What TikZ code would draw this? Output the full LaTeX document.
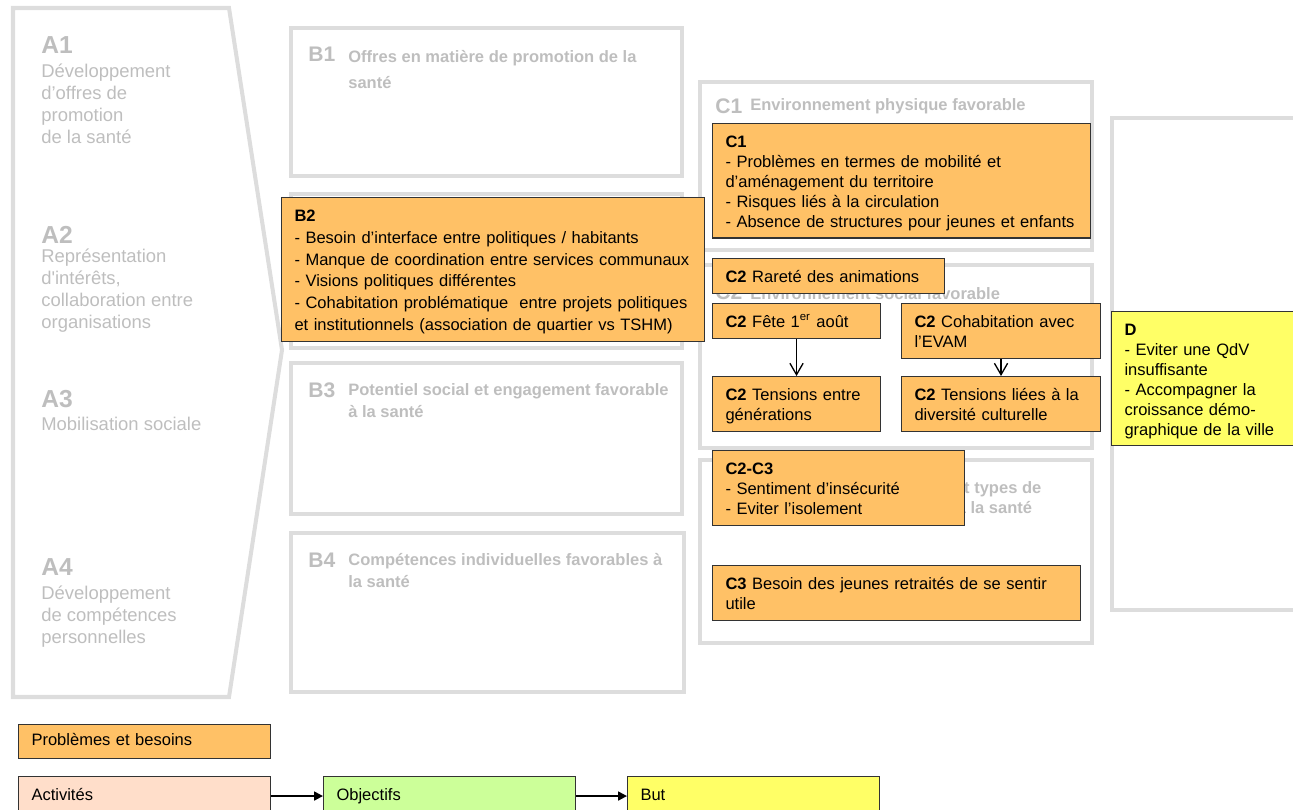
\documentclass[tikz,border=0pt]{standalone}
\usepackage{fontspec}
\setmainfont{Liberation Sans}
\usetikzlibrary{arrows.meta}
\definecolor{probfill}{RGB}{255,193,102}
\definecolor{actfill}{RGB}{255,222,202}
\definecolor{objfill}{RGB}{204,255,153}
\definecolor{butfill}{RGB}{255,255,102}
\definecolor{framegrey}{RGB}{221,221,221}
\definecolor{textgrey}{RGB}{190,190,190}
\begin{document}
\begin{tikzpicture}[x=0.02cm,y=-0.02cm,
  outbox/.style={draw=framegrey,line width=2.3pt,line join=miter},
  alab/.style={anchor=north west,inner sep=0pt,text=textgrey,font=\fontsize{14}{16}\selectfont\bfseries},
  atext/.style={anchor=north west,inner sep=0pt,text=textgrey,align=left,font=\fontsize{10.5}{12.5}\selectfont},
  hlab/.style={anchor=north west,inner sep=0pt,text=textgrey,font=\fontsize{12}{14}\selectfont\bfseries},
  htext/.style={anchor=north west,inner sep=0pt,text=textgrey,align=left,font=\fontsize{9.4}{12.5}\selectfont\bfseries},
  probbox/.style={draw=black!80,fill=probfill,line width=0.6pt,anchor=north west,
    inner xsep=7.4pt,inner ysep=2.8pt,align=left,text width=#1,
    font=\fontsize{9.4}{11.34}\selectfont,
    execute at begin node={\rule{0pt}{10.8pt}},execute at end node={\strut}},
  legbox/.style={draw=black!80,line width=0.6pt,anchor=north west,inner xsep=7.4pt,
    align=left,text width=4.52cm,font=\fontsize{9.4}{11.34}\selectfont,
    execute at begin node={\strut}},
  downarrow/.style={-{Straight Barb[length=6.5pt,width=7.5pt]},line width=0.75pt},
  legarrow/.style={-{Triangle[length=5pt,width=5pt]},line width=1.1pt}]
\useasboundingbox (0,0) rectangle (1293,809);
% A: activities column
\draw[outbox] (13,8) -- (229,8) -- (282,350) -- (229,697) -- (13,697) -- cycle;
\node[alab] (a1lab) at (41,36) {A1};
\node[atext] (a1txt) at (41,64) {Développement\\d’offres de\\promotion\\de la santé};
\node[alab] (a2lab) at (41,226) {A2};
\node[atext] (a2txt) at (41,249) {Représentation\\d\textquotesingle intérêts,\\collaboration entre\\organisations};
\node[alab] (a3lab) at (41,390) {A3};
\node[atext] (a3txt) at (41,417) {Mobilisation sociale};
\node[alab] (a4lab) at (41,558) {A4};
\node[atext] (a4txt) at (41,586) {Développement\\de compétences\\personnelles};
% B: frames
\draw[outbox] (291,28) rectangle (682,176);
\draw[outbox] (291,194) rectangle (682,348);
\draw[outbox] (291,363) rectangle (682,514);
\draw[outbox] (291,533) rectangle (684,692);
\node[hlab] (b1lab) at (308,47) {B1};
\node[htext] (b1txt) at (348,50) {Offres en matière de promotion de la\\[2.5pt]santé};
\node[hlab] (b3lab) at (308,382) {B3};
\node[htext] (b3txt) at (348,383) {Potentiel social et engagement favorable\\à la santé};
\node[hlab] (b4lab) at (308,553) {B4};
\node[htext] (b4txt) at (348,553) {Compétences individuelles favorables à\\la santé};
% C: frames
\draw[outbox] (700,82) rectangle (1092,250);
\draw[outbox] (700,265) rectangle (1092,448);
\draw[outbox] (700,460) rectangle (1092,643);
\node[hlab] (c1lab) at (715,98) {C1};
\node[htext] (c1txt) at (750,98) {Environnement physique favorable};
\node[hlab] (c2lab) at (715,284) {C2};
\node[htext] (c2txt) at (750,287) {Environnement social favorable};
\node[hlab] (c3lab) at (715,481) {C3};
\node[htext] (c3txt) at (750,481) {Ressources personnelles et types de\\[-1.2pt]comportement favorables à la santé};
% D: frame
\draw[outbox] (1112,118) rectangle (1330,610);
% problems and needs
\node[probbox=7.94cm,font=\fontsize{9.4}{12.4}\selectfont] (b2box) at (281,197) {\textbf{B2}\\- Besoin d’interface entre politiques / habitants\\- Manque de coordination entre services communaux\\- Visions politiques différentes\\- Cohabitation problématique\ \ entre projets politiques\\et institutionnels (association de quartier vs TSHM)};
\node[probbox=7.04cm] (c1box) at (712,123) {\textbf{C1}\\- Problèmes en termes de mobilité et\\d’aménagement du territoire\\- Risques liés à la circulation\\- Absence de structures pour jeunes et enfants};
\node[probbox=4.12cm] (rarebox) at (712,258) {\textbf{C2} Rareté des animations};
\node[probbox=2.84cm] (fetebox) at (712,303) {\textbf{C2} Fête 1\textsuperscript{\fontsize{6.5}{7}\selectfont er} août};
\node[probbox=3.46cm] (evambox) at (901,303) {\textbf{C2} Cohabitation avec\\l’EVAM};
\node[probbox=2.84cm] (genbox) at (712,376) {\textbf{C2} Tensions entre\\générations};
\node[probbox=3.46cm] (cultbox) at (901,376) {\textbf{C2} Tensions liées à la\\diversité culturelle};
\node[probbox=4.52cm] (insecbox) at (712,450) {\textbf{C2-C3}\\- Sentiment d’insécurité\\- Eviter l’isolement};
\node[probbox=6.84cm] (retrbox) at (712,565) {\textbf{C3} Besoin des jeunes retraités de se sentir\\utile};
\draw[downarrow] (fetebox.south) -- (genbox.north);
\draw[downarrow] (evambox.south) -- (cultbox.north);
% goal
\node[probbox=3.4cm,fill=butfill] (dbox) at (1111,311) {\textbf{D}\\- Eviter une QdV\\insuffisante\\- Accompagner la\\croissance démo-\\graphique de la ville};
% legend
\node[legbox,fill=probfill,minimum height=0.68cm] (legprob) at (18,724) {Problèmes et besoins};
\node[legbox,fill=actfill,minimum height=0.78cm] (legact) at (18,776) {Activités};
\node[legbox,fill=objfill,minimum height=0.78cm] (legobj) at (323,776) {Objectifs};
\node[legbox,fill=butfill,minimum height=0.78cm] (legbut) at (627,776) {But};
\draw[legarrow] (legact) -- (legobj);
\draw[legarrow] (legobj) -- (legbut);
\end{tikzpicture}
\end{document}
